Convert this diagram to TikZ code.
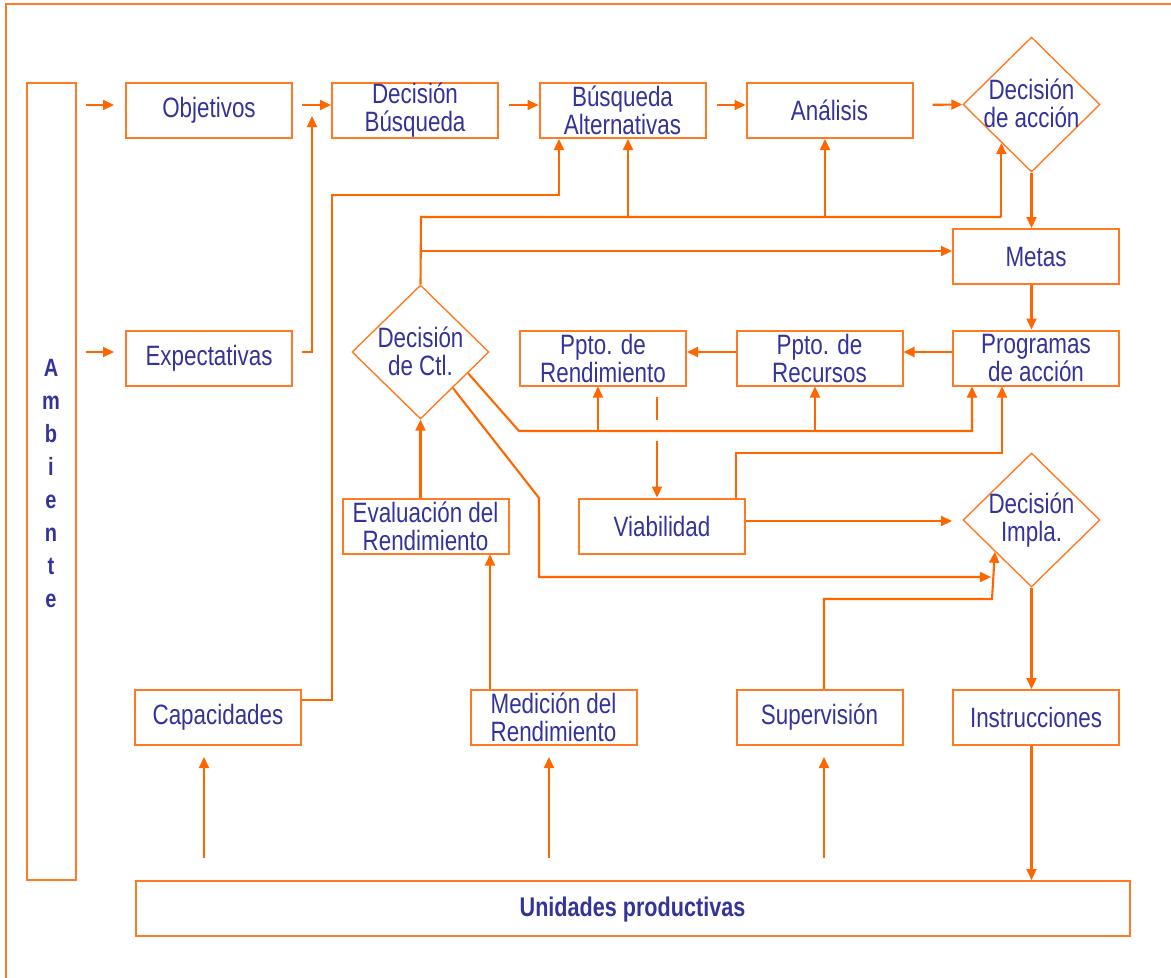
\documentclass[tikz,border=0pt]{standalone}
\usepackage{fontspec}
\setmainfont{Liberation Sans}[FakeStretch=0.80]
\usetikzlibrary{arrows.meta,shapes.geometric,calc}
\definecolor{org}{HTML}{FF6600}
\definecolor{boxc}{HTML}{FF7A22}
\definecolor{txtc}{HTML}{333399}
\tikzset{
  box/.style={draw=boxc, line width=2pt, minimum width=166pt, minimum height=55pt, inner sep=0pt, text=txtc, font=\fontsize{28}{28}\selectfont, align=center},
  dia/.style={draw=boxc, line width=1.4pt, diamond, minimum width=137pt, minimum height=135pt, inner sep=0pt},
  diatext/.style={text=txtc, font=\fontsize{28}{28}\selectfont, align=center, inner sep=0pt},
  conn/.style={draw=org, line width=2.1pt},
  arr/.style={conn, -{Triangle[length=11pt,width=10pt]}},
  frame/.style={draw=boxc, line width=1.6pt},
}
\begin{document}
\begin{tikzpicture}[x=1pt,y=-1pt]
\useasboundingbox (0,0) rectangle (1171,978);
\draw[frame] (1171,4) -- (6,4) -- (6,978);

% nodes
\node[box, minimum width=49pt, minimum height=797pt] (amb) at (51,481) {};
\node[text=txtc, font=\bfseries\fontsize{25}{33}\selectfont, align=center, inner sep=0pt] (ambt) at (51,484) {A\\m\\b\\i\\e\\n\\t\\e};
\node[box] (obj) at (209,110.5) {Objetivos};
\node[box] (decb) at (415,110.5) {Decisión\\Búsqueda};
\node[box] (busq) at (622.5,110.5) {Búsqueda\\Alternativas};
\node[box] (anal) at (829.5,110.5) {Análisis};
\node[dia] (dacc) at (1031.5,104.5) {};
\node[diatext] (dacct) at (1031.5,103) {Decisión\\de acción};
\node[box] (metas) at (1036,256.5) {Metas};
\node[box] (prog) at (1036,358) {Programas\\de acción};
\node[box] (pprec) at (819.5,358) {Ppto. de\\Recursos};
\node[box] (pprend) at (603,358) {Ppto. de\\Rendimiento};
\node[dia, minimum height=134pt] (dctl) at (420.5,352) {};
\node[diatext] (dctlt) at (420.5,351) {Decisión\\de Ctl.};
\node[box] (expe) at (209,358) {Expectativas};
\node[box] (eval) at (425.5,526) {Evaluación del\\Rendimiento};
\node[box] (viab) at (662,526) {Viabilidad};
\node[dia, minimum height=134pt] (dimp) at (1031.5,520) {};
\node[diatext] (dimpt) at (1031.5,520) {Decisión\\Impla.};
\node[box] (capa) at (218,717.5) {Capacidades};
\node[box] (medi) at (553.5,717.5) {Medición del\\Rendimiento};
\node[box] (supe) at (819.5,717.5) {Supervisión};
\node[box] (instr) at (1036,717.5) {Instrucciones};
\node[box, minimum width=994pt] (unid) at (632.5,908.5) {};
\node[text=txtc, font=\bfseries\fontsize{27}{28}\selectfont, inner sep=0pt] (unidt) at (632.5,910) {Unidades productivas};

% free ends
\coordinate (j1) at (312,116);
\coordinate (j2) at (991,577);

% top row
\draw[arr, shorten <=9pt, shorten >=11pt] (amb.east |- 0,105) -- (obj.west |- 0,105);
\draw[arr, shorten <=9pt] (obj.east |- 0,105) -- (decb.west |- 0,105);
\draw[arr, shorten <=10pt] (decb.east |- 0,105) -- (busq.west |- 0,105);
\draw[arr, shorten <=10pt] (busq.east |- 0,105) -- (anal.west |- 0,105);
\draw[arr, shorten <=19pt] (anal.east |- 0,105) -- (dacc.west);

% expectativas
\draw[arr, shorten <=9pt, shorten >=11pt] (amb.east |- 0,352) -- (expe.west |- 0,352);
\draw[arr, shorten <=9pt] (expe.east |- 0,352) -- (312,352) -- (j1);

% capacidades to busqueda
\draw[arr] (capa.east |- 0,700) -- (332,700) -- (332,195) -- (559,195) -- (busq.south -| 559,0);

% control decision to top
\draw[conn] (dctl.north) -- (421,217) -- (dacc.232 |- 0,217);
\draw[arr] (dacc.232 |- 0,217) -- (dacc.232);
\draw[arr] (628,217) -- (busq.south -| 628,0);
\draw[arr] (825,217) -- (anal.south -| 825,0);
\draw[arr] (421,251) -- (metas.west |- 0,251);

% right column
\draw[arr] (dacc.south) -- (dacc.south |- metas.north);
\draw[arr] (metas.south -| dacc.south) -- (prog.north -| dacc.south);
\draw[arr] (prog.west |- 0,352) -- (pprec.east |- 0,352);
\draw[arr] (pprec.west |- 0,352) -- (pprend.east |- 0,352);

% control decision lower lines
\draw[arr] (dctl.-24) -- (519,431) -- (972,431) -- (prog.south -| 972,0);
\draw[arr] (598,431) -- (pprend.south -| 598,0);
\draw[arr] (815,431) -- (pprec.south -| 815,0);
\draw[arr] (dctl.-48) -- (539,498) -- (539,577) -- (j2);

% evaluation chain
\draw[arr] (eval.north -| dctl.south) -- (dctl.south);
\draw[arr] (medi.north -| 490,0) -- (eval.south -| 490,0);

% ppto rend to viabilidad
\draw[conn] (657,397) -- (657,420);
\draw[arr] (657,441) -- (viab.north -| 657,0);

% viabilidad
\draw[arr] (viab.north -| 736,0) -- (736,453) -- (1002,453) -- (prog.south -| 1002,0);
\draw[arr] (viab.east |- 0,521) -- (952,521);

% supervision
\draw[arr] (supe.north -| 824,0) -- (824,599) -- (992,599) -- (dimp.221);

% instrucciones
\draw[arr] (dimp.south) -- (dimp.south |- instr.north);
\draw[arr] (instr.south -| dimp.south) -- (unid.north -| dimp.south);

% unidades up
\draw[arr, shorten <=22pt, shorten >=11pt] (unid.north -| 204,0) -- (capa.south -| 204,0);
\draw[arr, shorten <=22pt, shorten >=11pt] (unid.north -| 549,0) -- (medi.south -| 549,0);
\draw[arr, shorten <=22pt, shorten >=11pt] (unid.north -| 824,0) -- (supe.south -| 824,0);
\end{tikzpicture}
\end{document}
